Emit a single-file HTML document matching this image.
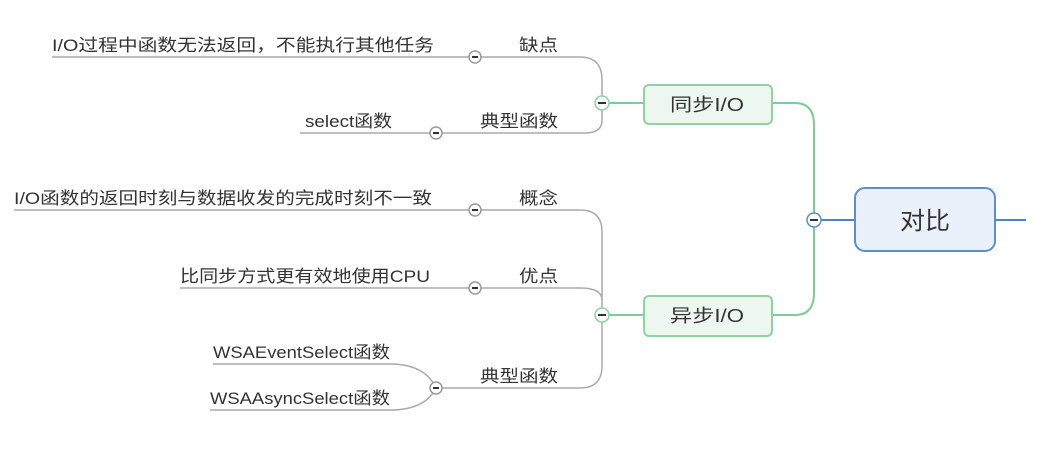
<!DOCTYPE html>
<html><head><meta charset="utf-8"><style>
html,body{margin:0;padding:0;background:#fff;width:1059px;height:451px;overflow:hidden}
text{font-family:"Liberation Sans","Noto Sans CJK SC",sans-serif;fill:#333}
</style></head><body>
<svg width="1059" height="451" xmlns="http://www.w3.org/2000/svg">
<g fill="none" stroke="#aaa" stroke-width="1.5">
<path d="M52 57 H580 Q602 57 602 80 V103 V120 Q602 133 585 133 H300"/>
<path d="M14 210 H580 Q602 210 602 232 V366 Q602 388 580 388 H436"/>
<path d="M180 288 H580 Q602 288 602 300"/>
<path d="M213 364 H390 Q425 364 436 388 Q425 410 390 410 H210"/>
</g>
<g fill="none" stroke="#7fcb98" stroke-width="2">
<path d="M602 103 H644 M602 315 H644"/>
<path d="M772 103 H795 Q814 103 814 125 V293 Q814 315 795 315 H772"/>
</g>
<path d="M814 220 H855 M995 220 H1026" stroke="#4a84c4" stroke-width="2"/>
<rect x="644" y="85" width="128" height="39" rx="5" fill="#edf7ef" stroke="#8fd2a4" stroke-width="2"/>
<rect x="644" y="296" width="128" height="40" rx="5" fill="#edf7ef" stroke="#8fd2a4" stroke-width="2"/>
<rect x="855" y="188" width="140" height="63" rx="10" fill="#eaf1fb" stroke="#5b8fc9" stroke-width="2"/>
<text x="670" y="111" font-size="18" textLength="74" lengthAdjust="spacingAndGlyphs">同步I/O</text>
<text x="670" y="322" font-size="18" textLength="74" lengthAdjust="spacingAndGlyphs">异步I/O</text>
<text x="900" y="229" font-size="24" textLength="50" lengthAdjust="spacingAndGlyphs">对比</text>
<g font-size="17" lengthAdjust="spacingAndGlyphs">
<text x="519" y="51" textLength="39" lengthAdjust="spacingAndGlyphs">缺点</text>
<text x="52" y="51" textLength="382" lengthAdjust="spacingAndGlyphs">I/O过程中函数无法返回，不能执行其他任务</text>
<text x="480" y="127" textLength="78" lengthAdjust="spacingAndGlyphs">典型函数</text>
<text x="305" y="127" textLength="87" lengthAdjust="spacingAndGlyphs">select函数</text>
<text x="519" y="204" textLength="39" lengthAdjust="spacingAndGlyphs">概念</text>
<text x="14" y="204" textLength="418" lengthAdjust="spacingAndGlyphs">I/O函数的返回时刻与数据收发的完成时刻不一致</text>
<text x="519" y="282" textLength="39" lengthAdjust="spacingAndGlyphs">优点</text>
<text x="180" y="282" textLength="250" lengthAdjust="spacingAndGlyphs">比同步方式更有效地使用CPU</text>
<text x="480" y="382" textLength="78" lengthAdjust="spacingAndGlyphs">典型函数</text>
<text x="213" y="358" textLength="177" lengthAdjust="spacingAndGlyphs">WSAEventSelect函数</text>
<text x="210" y="404" textLength="180" lengthAdjust="spacingAndGlyphs">WSAAsyncSelect函数</text>
</g>
<g stroke-width="1.5">
<circle cx="475" cy="57" r="6" fill="#fff" stroke="#999"/>
<circle cx="436" cy="133" r="6" fill="#fff" stroke="#999"/>
<circle cx="475" cy="210" r="6" fill="#fff" stroke="#999"/>
<circle cx="475" cy="288" r="6" fill="#fff" stroke="#999"/>
<circle cx="436" cy="388" r="6" fill="#fff" stroke="#999"/>
<circle cx="602" cy="103" r="7" fill="#fff" stroke="#8fd2a4"/>
<circle cx="602" cy="315" r="7" fill="#fff" stroke="#8fd2a4"/>
<circle cx="814" cy="220" r="7" fill="#fff" stroke="#5b8fc9"/>
</g>
<g stroke="#333" stroke-width="2">
<path d="M472 57h6M433 133h6M472 210h6M472 288h6M433 388h6M598 103h8M598 315h8M810 220h8"/>
</g>
</svg>
</body></html>
